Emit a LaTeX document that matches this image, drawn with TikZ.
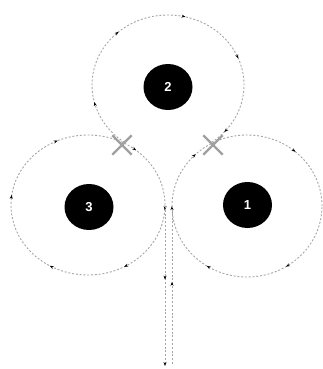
\documentclass[tikz,border=0pt]{standalone}
\usepackage{fontspec}
\setmainfont{Liberation Sans}
\usetikzlibrary{arrows.meta,decorations.markings,shapes.misc,shapes.geometric}
\definecolor{pathgray}{RGB}{165,165,165}
\definecolor{crossgray}{RGB}{160,160,160}
\tikzset{
  loopline/.style={draw=pathgray, line width=0.9pt, dash pattern=on 2pt off 1.8pt},
  mytip/.tip={Stealth[length=4pt,width=3pt,black]},
  disk/.style={ellipse, fill=black, minimum width=49pt, minimum height=46pt, inner sep=0pt, text=white, font=\bfseries\fontsize{13}{13}\selectfont},
  xmark/.style={cross out, draw=crossgray, line width=2.4pt, minimum size=17pt, inner sep=0pt},
  /pgf/decoration/rt/.style={mark=at position #1 with {\arrowreversed{mytip}}},
  /pgf/decoration/ft/.style={mark=at position #1 with {\arrow{mytip}}},
}
\begin{document}
\begin{tikzpicture}[x=1pt,y=1pt]
\useasboundingbox (0,0) rectangle (322,-369);
% loop 1 (right)
\draw[loopline, postaction={decorate}, decoration={markings,
  rt=0.136, rt=0.372, rt=0.5, rt=0.658, rt=0.839}]
  (247,-206) ellipse[x radius=75, y radius=71];
% loop 3 (left)
\draw[loopline, postaction={decorate}, decoration={markings,
  rt=0.139, rt=0.317, rt=0.478, rt=0.664, rt=0.831, rt=0.989}]
  (88,-205) ellipse[x radius=77, y radius=70];
% loop 2 (top), open at the bottom between the crossings
\draw[loopline, postaction={decorate}, decoration={markings,
  rt=0.045, rt=0.262, rt=0.452, rt=0.645, rt=0.86}]
  (168,-85) ++(-55:76 and 70) arc[start angle=-55, end angle=235, x radius=76, y radius=70];
% vertical lines
\coordinate (ltop) at (165,-206);
\coordinate (lbot) at (165,-366);
\coordinate (rtop) at (172,-206);
\coordinate (rbot) at (172,-364);
\draw[loopline, -mytip, postaction={decorate}, decoration={markings, ft=0.46}] (ltop) -- (lbot);
\draw[loopline, postaction={decorate}, decoration={markings, ft=0.52}] (rbot) -- (rtop);
% disks
\node[disk] (n2) at (168,-87) {2};
\node[disk] (n3) at (89,-207) {3};
\node[disk] (n1) at (247.5,-205) {1};
% crossings
\node[xmark] (x1) at (122,-145) {};
\node[xmark] (x2) at (213,-145) {};
\end{tikzpicture}
\end{document}
